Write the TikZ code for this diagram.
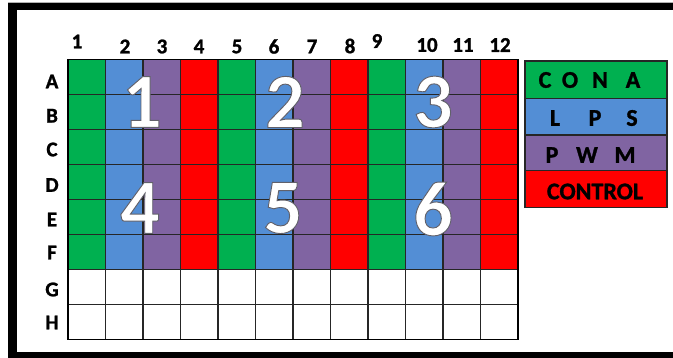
\documentclass[tikz,border=0pt]{standalone}
\usepackage{fontspec}
\setmainfont{Carlito}[BoldFeatures={FakeBold=1.2}]
\definecolor{cgreen}{RGB}{0,176,80}
\definecolor{cblue}{RGB}{83,142,213}
\definecolor{cpurple}{RGB}{128,100,162}
\definecolor{cred}{RGB}{255,0,0}
\tikzset{
  gridline/.style={draw=black!85, line width=1.1pt},
  lab/.style={font=\bfseries\fontsize{21}{21}\selectfont, inner sep=0pt},
  leglab/.style={font=\bfseries\fontsize{24}{24}\selectfont, inner sep=0pt},
  bigdigit/.style={font=\bfseries\fontsize{78}{78}\selectfont, inner sep=0pt, text=white},
  legcell/.style={draw=black!85, line width=1.2pt}
}
\newcommand{\glowdigit}[1]{\special{pdf:literal direct 2 Tr 1.6 w 0.38 0.38 0.42 RG}#1\special{pdf:literal direct 0 Tr}}
\begin{document}
\begin{tikzpicture}[x=1pt,y=-1pt]
\useasboundingbox (0,0) rectangle (673,358);
% frame
\begin{scope}
\clip (0,0) rectangle (673,358);
\fill[white] (0,0) rectangle (673,358);
\fill[black] (8,3) rectangle (700,358);
\fill[white] (17,10.5) rectangle (700,352);
\draw[black!30, line width=0.6pt] (8,2.7) -- (700,2.7);
\end{scope}
% column fills
\foreach \c [count=\i from 0] in {cgreen,cblue,cpurple,cred,cgreen,cblue,cpurple,cred,cgreen,cblue,cpurple,cred}
  \fill[\c] ({68+\i*37.5},59.5) rectangle ++(37.5,210);
% grid lines
\foreach \i in {0,...,12}
  \draw[gridline] ({68+\i*37.5},59.5) -- ++(0,280);
\foreach \j in {0,...,8}
  \draw[gridline] (68,{59.5+\j*35}) -- ++(450,0);
\draw[black, line width=1.4pt] (68,59.5) rectangle (518,339.5);
% column labels
\foreach \t/\x/\y in {1/77/41.5,2/125/46.5,3/162/46.5,4/199/46.5,5/237/46.5,6/274/46.5,7/312/46.5,8/350/46,9/377/41,10/427/45,11/463/45,12/500/45}
  \node[lab] (col\t) at (\x,\y) {\t};
% row labels
\foreach \t/\y in {A/81.5,B/115.7,C/149.5,D/185,E/219.5,F/252.5,G/289.5,H/322.5}
  \node[lab] (row\t) at (52,\y) {\t};
% big numbers
\foreach \t/\x/\y in {1/142/102,2/285/102,3/433/102,4/140/208,5/283/208,6/433/209}
  \node[bigdigit] (num\t) at (\x,\y) {\glowdigit{\t}};
% legend
\fill[cgreen] (525,61) rectangle (667,98.3);
\fill[cblue] (525,98.3) rectangle (667,135);
\fill[cpurple] (525,135) rectangle (667,170.7);
\fill[cred] (525,170.7) rectangle (667,207.3);
\draw[legcell] (525,61) rectangle (667,207.3);
\draw[legcell] (525,98.3) -- (667,98.3);
\draw[legcell] (525,135) -- (667,135);
\draw[legcell] (525,170.7) -- (667,170.7);
\node[leglab] (conaC) at (545,80) {C};
\node[leglab] (conaO) at (570,80) {O};
\node[leglab] (conaN) at (600,80) {N};
\node[leglab] (conaA) at (633,80) {A};
\node[leglab] (lpsL) at (555,118) {L};
\node[leglab] (lpsP) at (595,118) {P};
\node[leglab] (lpsS) at (632,118) {S};
\node[leglab] (pwmP) at (552,155) {P};
\node[leglab] (pwmW) at (587,155) {W};
\node[leglab] (pwmM) at (625,155) {M};
\node[leglab] (control) at (595,191.5) {CONTROL};
\end{tikzpicture}
\end{document}
